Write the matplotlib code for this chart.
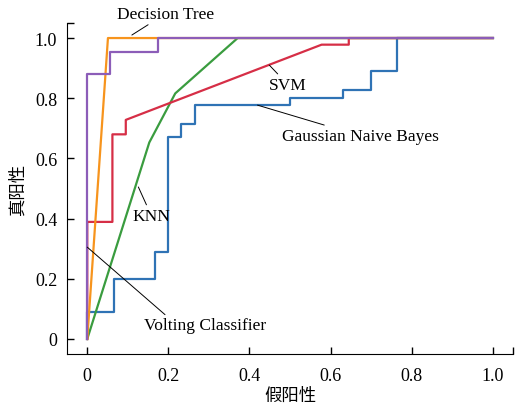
import numpy as np
import matplotlib.pyplot as plt

# ROC curves (false positive rate, true positive rate)
dt_fpr = [0, 0.051, 1.0]
dt_tpr = [0, 1.0, 1.0]

vc_fpr = [0, 0, 0.057, 0.057, 0.174, 0.174, 1.0]
vc_tpr = [0, 0.88, 0.88, 0.955, 0.955, 1.0, 1.0]

svm_fpr = [0, 0, 0.062, 0.062, 0.095, 0.095, 0.578, 0.645, 0.645, 1.0]
svm_tpr = [0, 0.389, 0.389, 0.68, 0.68, 0.728, 0.978, 0.978, 1.0, 1.0]

knn_fpr = [0, 0.153, 0.217, 0.371, 1.0]
knn_tpr = [0, 0.653, 0.816, 1.0, 1.0]

gnb_fpr = [0, 0, 0.065, 0.065, 0.166, 0.166, 0.199, 0.199, 0.232, 0.232,
           0.266, 0.266, 0.5, 0.5, 0.63, 0.63, 0.70, 0.70, 0.765, 0.765, 1.0]
gnb_tpr = [0, 0.09, 0.09, 0.20, 0.20, 0.29, 0.29, 0.67, 0.67, 0.714,
           0.714, 0.777, 0.777, 0.80, 0.80, 0.826, 0.826, 0.89, 0.89, 1.0, 1.0]

ticks = [0, 0.2, 0.4, 0.6, 0.8, 1.0]
tick_labels = ['0', '0.2', '0.4', '0.6', '0.8', '1.0']

plt.rcParams['font.family'] = ['Liberation Serif', 'Noto Sans CJK SC']

fig = plt.figure(figsize=(5.21, 4.06), dpi=100)
ax = fig.add_axes([0.1286, 0.1256, 0.856, 0.8153])

lw = 1.6
ax.plot(gnb_fpr, gnb_tpr, color='#2f73b5', lw=lw)
ax.plot(knn_fpr, knn_tpr, color='#3a9c3f', lw=lw)
ax.plot(svm_fpr, svm_tpr, color='#d62e46', lw=lw)
ax.plot(dt_fpr, dt_tpr, color='#f7941d', lw=lw)
ax.plot(vc_fpr, vc_tpr, color='#8c5db8', lw=lw)

ax.set_xlim(-0.05, 1.05)
ax.set_ylim(-0.05, 1.05)
ax.set_xticks(ticks)
ax.set_xticklabels(tick_labels)
ax.set_yticks(ticks)
ax.set_yticklabels(tick_labels)
ax.set_xticks([1.05], minor=True)
ax.set_yticks([1.05], minor=True)
ax.tick_params(which='both', direction='in', length=5, width=1, labelsize=13)
ax.tick_params(axis='x', pad=9)
ax.tick_params(axis='y', pad=7)
ax.spines['top'].set_visible(False)
ax.spines['right'].set_visible(False)

ax.set_xlabel('假阳性', fontsize=12.5, family=['Noto Sans CJK SC'], labelpad=2)
ax.set_ylabel('真阳性', fontsize=12.5, family=['Noto Sans CJK SC'], labelpad=6)

fs = 12.5
ap = dict(arrowstyle='-', color='black', lw=0.7, shrinkA=0, shrinkB=0)
ax.annotate('Decision Tree', xy=(0.110, 1.01), xytext=(0.192, 1.08),
            fontsize=fs, ha='center', va='center', arrowprops=ap,
            annotation_clip=False)
ax.annotate('SVM', xy=(0.449, 0.91), xytext=(0.495, 0.845),
            fontsize=fs, ha='center', va='center', arrowprops=ap)
ax.annotate('Gaussian Naive Bayes', xy=(0.42, 0.777), xytext=(0.48, 0.675),
            fontsize=fs, ha='left', va='center', arrowprops=ap)
ax.annotate('KNN', xy=(0.126, 0.505), xytext=(0.158, 0.41),
            fontsize=fs, ha='center', va='center', arrowprops=ap)
ax.annotate('Volting Classifier', xy=(0.0, 0.305), xytext=(0.29, 0.045),
            fontsize=fs, ha='center', va='center',
            arrowprops=dict(ap, relpos=(0.2, 1.0)))

fig.savefig('out.png', dpi=100)
